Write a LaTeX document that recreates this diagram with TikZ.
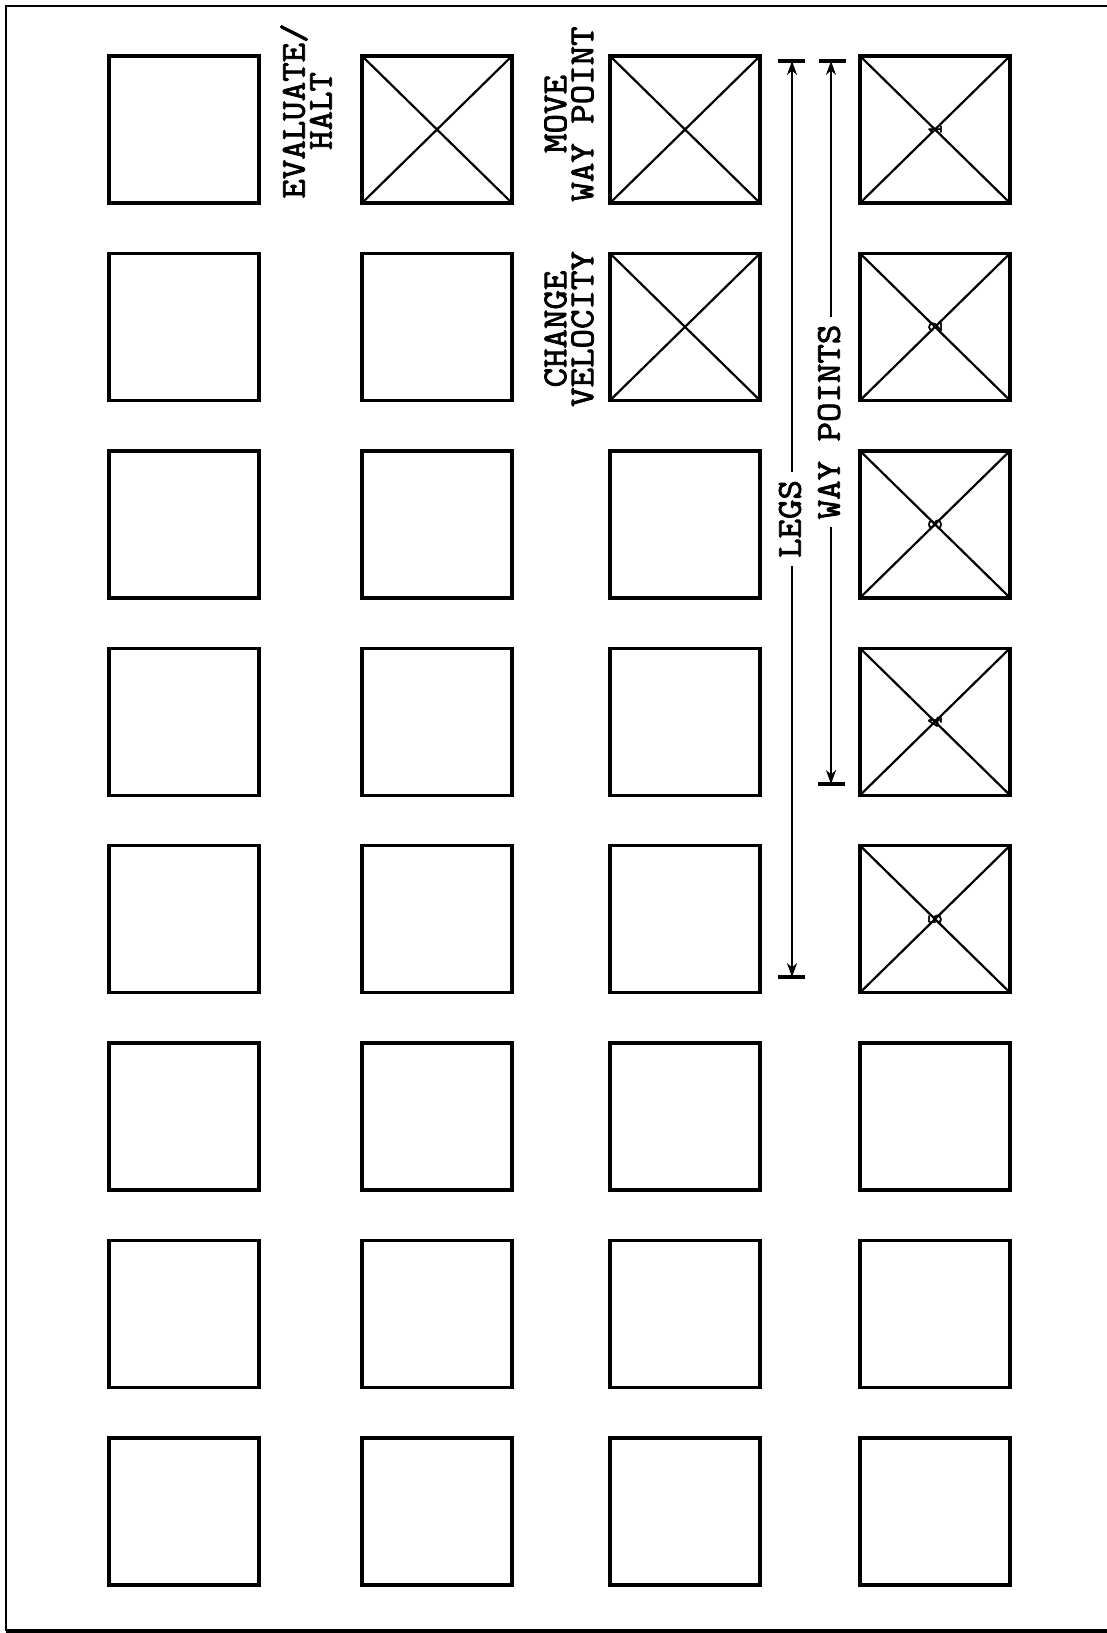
\documentclass[tikz,border=0pt]{standalone}
\usepackage{fontspec}
\newfontfamily\tw[AutoFakeBold=2.2]{Latin Modern Mono}
\usetikzlibrary{arrows.meta}
\begin{document}
\begin{tikzpicture}[x=1pt,y=-1pt,
  cell/.style={draw,line width=3.4pt,minimum width=150pt,minimum height=147pt,inner sep=0pt,outer sep=0pt},
  diag/.style={line width=2.2pt},
  lbl/.style={rotate=90,xscale=1.08,align=center,font=\tw\bfseries\fontsize{35}{27}\selectfont,inner sep=0pt},
  dimtxt/.style={rotate=90,xscale=1.08,font=\tw\bfseries\fontsize{35}{27}\selectfont,inner sep=7pt},
  num/.style={rotate=90,font=\tw\bfseries\fontsize{21}{21}\selectfont,inner sep=0pt},
  dim/.style={line width=2pt,-{Stealth[length=14pt,width=10pt]}},
  bar/.style={line width=3.4pt},
  frame/.style={line width=2.6pt}]
\useasboundingbox (0,0) rectangle (1107,1633);
\fill[white] (0,0) rectangle (1107,1633);
% frame
\coordinate (fTL) at (6,6);
\coordinate (fTR) at (1107,6);
\coordinate (fBL) at (6,1631);
\coordinate (fBR) at (1107,1631);
\draw[frame] (fTR) -- (fTL) -- (fBL);
\draw[line width=3.8pt] (fBL) -- (fBR);
% grid of boxes
\foreach \c/\cx in {1/184,2/437,3/685,4/935}{
  \foreach \r in {1,...,8}{
    \pgfmathsetmacro{\cy}{129.5+197.4*(\r-1)}
    \node[cell] (b\r\c) at (\cx,\cy) {};
  }
}
% crossed boxes
\foreach \n in {12,13,23,14,24,34,44,54}{
  \draw[diag] (b\n.north west) -- (b\n.south east);
  \draw[diag] (b\n.north east) -- (b\n.south west);
}
% way point numbers
\foreach \r in {1,...,5}{
  \node[num] (n\r) at (b\r4.center) {\r};
}
% labels
\node[lbl] (evh) at (306,111) {EVALUATE/\\HALT};
\node[lbl] (mwp) at (569,114) {MOVE\\WAY POINT};
\node[lbl] (cvl) at (569,329) {CHANGE\\VELOCITY};
% LEGS dimension
\coordinate (lt) at (792,61);
\coordinate (lb) at (792,977);
\coordinate (ltl) at (778,61); \coordinate (ltr) at (805,61);
\coordinate (lbl) at (778,977); \coordinate (lbr) at (805,977);
\node[dimtxt] (legs) at (790,519) {LEGS};
\draw[dim] (legs.east -| lt) -- (lt);
\draw[dim] (legs.west -| lb) -- (lb);
\draw[bar] (ltl) -- (ltr);
\draw[bar] (lbl) -- (lbr);
% WAY POINTS dimension
\coordinate (wt) at (831,61);
\coordinate (wb) at (831,784);
\coordinate (wtl) at (819,61); \coordinate (wtr) at (846,61);
\coordinate (wbl) at (818,784); \coordinate (wbr) at (845,784);
\node[dimtxt] (wps) at (829,422) {WAY POINTS};
\draw[dim] (wps.east -| wt) -- (wt);
\draw[dim] (wps.west -| wb) -- (wb);
\draw[bar] (wtl) -- (wtr);
\draw[bar] (wbl) -- (wbr);
\end{tikzpicture}
\end{document}
